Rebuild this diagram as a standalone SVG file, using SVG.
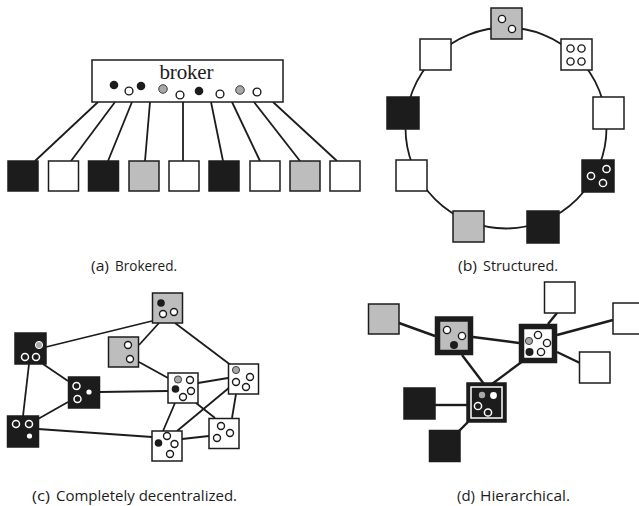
<svg xmlns="http://www.w3.org/2000/svg" width="639" height="506" viewBox="0 0 639 506">
<style>
.bg{fill:#fff}
.k{fill:#1c1c1c;stroke:#1c1c1c;stroke-width:1.5}
.w{fill:#fff;stroke:#1c1c1c;stroke-width:1.5}
.g{fill:#bdbdbd;stroke:#1c1c1c;stroke-width:1.5}
.ln{stroke:#1c1c1c;stroke-width:1.8;fill:none}
.ln2{stroke:#1c1c1c;stroke-width:2.4;fill:none}
.dk{fill:#1c1c1c}
.dw{fill:#fff;stroke:#1c1c1c;stroke-width:1.4}
.dg{fill:#a8a8a8;stroke:#1c1c1c;stroke-width:0.8}
.ow{fill:none;stroke:#fff;stroke-width:1.5}
.fw{fill:#fff}
.gg{fill:#a8a8a8}
.cap{font-family:"Open Sans","Noto Sans",sans-serif;font-size:14.5px;fill:#1c1c1c}
.serif{font-family:"Liberation Serif","Times New Roman",serif;font-size:21px;fill:#1c1c1c}
</style>
<rect class="bg" x="0" y="0" width="639" height="506"/>

<!-- (a) Brokered -->
<g id="a-connectors">
<line class="ln" x1="98" y1="102" x2="35" y2="161"/>
<line class="ln" x1="115" y1="102" x2="71" y2="161"/>
<line class="ln" x1="132" y1="102" x2="108" y2="161"/>
<line class="ln" x1="150" y1="102" x2="145" y2="161"/>
<line class="ln" x1="183" y1="102" x2="183" y2="161"/>
<line class="ln" x1="211" y1="102" x2="223" y2="161"/>
<line class="ln" x1="232" y1="102" x2="260" y2="161"/>
<line class="ln" x1="254" y1="102" x2="300" y2="161"/>
<line class="ln" x1="273" y1="102" x2="337" y2="161"/>
</g>
<g id="a-broker">
<rect class="w" x="92" y="60" width="191" height="42"/>
<text class="serif" x="186.5" y="78.5" text-anchor="middle" textLength="54">broker</text>
<circle class="dk" cx="114" cy="85" r="4.3"/>
<circle class="dw" cx="129" cy="91" r="3.9"/>
<circle class="dk" cx="141" cy="86" r="4.3"/>
<circle class="dg" cx="163" cy="89" r="4.3"/>
<circle class="dw" cx="180" cy="95" r="3.9"/>
<circle class="dk" cx="199" cy="91" r="4.3"/>
<circle class="dw" cx="220" cy="94" r="3.9"/>
<circle class="dg" cx="240" cy="90" r="4.3"/>
<circle class="dw" cx="257" cy="92" r="3.9"/>
</g>
<g id="a-n1"><rect class="k" x="8" y="161" width="30" height="30"/></g>
<g id="a-n2"><rect class="w" x="48.5" y="161" width="30" height="30"/></g>
<g id="a-n3"><rect class="k" x="88.5" y="161" width="30" height="30"/></g>
<g id="a-n4"><rect class="g" x="129" y="161" width="30" height="30"/></g>
<g id="a-n5"><rect class="w" x="169" y="161" width="30" height="30"/></g>
<g id="a-n6"><rect class="k" x="209" y="161" width="30" height="30"/></g>
<g id="a-n7"><rect class="w" x="250" y="161" width="30" height="30"/></g>
<g id="a-n8"><rect class="g" x="290" y="161" width="30" height="30"/></g>
<g id="a-n9"><rect class="w" x="330" y="161" width="30" height="30"/></g>
<text class="cap" y="270.5"><tspan x="91" textLength="18" lengthAdjust="spacingAndGlyphs">(a)</tspan> <tspan x="115" textLength="62" lengthAdjust="spacingAndGlyphs">Brokered.</tspan></text>

<!-- (b) Structured -->
<g id="b-connectors">
<circle class="ln" cx="506" cy="128" r="100.5"/>
</g>
<g id="b-n1"><rect class="g" x="491" y="8" width="31" height="31"/>
<circle class="dw" cx="502" cy="19" r="3.6"/><circle class="dw" cx="512" cy="29" r="3.6"/></g>
<g id="b-n2"><rect class="w" x="420" y="39" width="31" height="31"/></g>
<g id="b-n3"><rect class="w" x="561" y="39" width="31" height="31"/>
<circle class="dw" cx="570.5" cy="48.5" r="3.6"/><circle class="dw" cx="581.5" cy="48.5" r="3.6"/>
<circle class="dw" cx="570.5" cy="61.5" r="3.6"/><circle class="dw" cx="581.5" cy="61.5" r="3.6"/></g>
<g id="b-n4"><rect class="k" x="387" y="97" width="32" height="32"/></g>
<g id="b-n5"><rect class="w" x="593" y="97" width="31" height="32"/></g>
<g id="b-n6"><rect class="w" x="396" y="160" width="31" height="31"/></g>
<g id="b-n7"><rect class="k" x="582" y="160" width="32" height="32"/>
<circle class="ow" cx="591" cy="176" r="3.6"/><circle class="ow" cx="606.5" cy="169" r="3.6"/><circle class="ow" cx="603" cy="183" r="3.6"/></g>
<g id="b-n8"><rect class="g" x="453" y="211" width="31" height="31"/></g>
<g id="b-n9"><rect class="k" x="527" y="211" width="32" height="32"/></g>
<text class="cap" y="270.5"><tspan x="458" textLength="19" lengthAdjust="spacingAndGlyphs">(b)</tspan> <tspan x="483" textLength="75" lengthAdjust="spacingAndGlyphs">Structured.</tspan></text>

<!-- (c) Completely decentralized -->
<g id="c-connectors">
<line class="ln" x1="46" y1="347" x2="152" y2="321"/>
<line class="ln" x1="139" y1="345" x2="159" y2="323"/>
<line class="ln" x1="175" y1="323" x2="232" y2="366"/>
<line class="ln" x1="43" y1="364" x2="68" y2="381"/>
<line class="ln" x1="29" y1="364" x2="23" y2="416"/>
<line class="ln" x1="139" y1="362" x2="168" y2="378"/>
<line class="ln" x1="99" y1="392" x2="168" y2="391"/>
<line class="ln" x1="68" y1="402" x2="38" y2="419"/>
<line class="ln" x1="38" y1="429" x2="152" y2="437"/>
<line class="ln" x1="198" y1="383" x2="228" y2="378"/>
<line class="ln" x1="175" y1="403" x2="163" y2="431"/>
<line class="ln" x1="196" y1="403" x2="215" y2="418"/>
<line class="ln" x1="230" y1="387" x2="177" y2="431"/>
<line class="ln" x1="236" y1="394" x2="232" y2="418"/>
<line class="ln" x1="182" y1="439" x2="209" y2="436"/>
</g>
<g id="c-A"><rect class="g" x="152.5" y="293" width="30" height="30"/>
<circle class="dk" cx="161" cy="303" r="3.8"/><circle class="dw" cx="163" cy="314" r="3.5"/><circle class="dw" cx="174" cy="312" r="3.5"/></g>
<g id="c-B"><rect class="k" x="15" y="333" width="31" height="31"/>
<circle class="gg" cx="39" cy="345" r="3.6" stroke="#fff" stroke-width="1"/><circle class="ow" cx="25" cy="357" r="3.5"/><circle class="ow" cx="36" cy="357" r="3.5"/></g>
<g id="c-C"><rect class="g" x="108.5" y="337" width="30" height="30"/>
<circle class="dw" cx="128" cy="345" r="3.5"/><circle class="dw" cx="130" cy="359" r="3.5"/></g>
<g id="c-D"><rect class="k" x="68.5" y="377" width="31" height="31"/>
<circle class="ow" cx="76.5" cy="386" r="3.5"/><circle class="ow" cx="77.5" cy="399" r="3.5"/><circle class="fw" cx="89" cy="392" r="2.6"/></g>
<g id="c-E"><rect class="w" x="168" y="373" width="30" height="30"/>
<circle class="dg" cx="178" cy="379.5" r="3.6"/><circle class="dw" cx="190" cy="380" r="3.5"/><circle class="dk" cx="175.5" cy="389" r="3.8"/><circle class="dw" cx="191" cy="391" r="3.5"/><circle class="dw" cx="183" cy="397" r="3.5"/></g>
<g id="c-F"><rect class="w" x="228.5" y="364" width="30" height="30"/>
<circle class="dg" cx="236" cy="370" r="3.6"/><circle class="dw" cx="250" cy="377" r="3.5"/><circle class="dw" cx="236" cy="382" r="3.5"/><circle class="dw" cx="246" cy="387" r="3.5"/></g>
<g id="c-G"><rect class="k" x="7.5" y="416" width="31" height="31"/>
<circle class="ow" cx="16" cy="424" r="3.5"/><circle class="ow" cx="29" cy="424" r="3.5"/><circle class="fw" cx="29.5" cy="436" r="2.6"/></g>
<g id="c-H"><rect class="w" x="152" y="431" width="30" height="30"/>
<circle class="dk" cx="158.5" cy="443" r="3.8"/><circle class="dw" cx="167" cy="436" r="3.5"/><circle class="dw" cx="174.5" cy="444" r="3.5"/><circle class="dw" cx="170" cy="454" r="3.5"/></g>
<g id="c-I"><rect class="w" x="209" y="418.5" width="30" height="30"/>
<circle class="dw" cx="221" cy="426" r="3.5"/><circle class="dw" cx="230" cy="433" r="3.5"/><circle class="dw" cx="217" cy="438" r="3.5"/></g>
<text class="cap" y="501"><tspan x="32" textLength="18" lengthAdjust="spacingAndGlyphs">(c)</tspan> <tspan x="56" textLength="181" lengthAdjust="spacingAndGlyphs">Completely decentralized.</tspan></text>

<!-- (d) Hierarchical -->
<g id="d-connectors">
<line class="ln2" x1="399" y1="323" x2="435" y2="336"/>
<line class="ln2" x1="473" y1="337" x2="519" y2="343"/>
<line class="ln2" x1="462" y1="355" x2="484" y2="384"/>
<line class="ln2" x1="527" y1="358" x2="492" y2="384"/>
<line class="ln2" x1="548" y1="324" x2="557" y2="313"/>
<line class="ln2" x1="557" y1="335" x2="613" y2="320"/>
<line class="ln2" x1="557" y1="352" x2="580" y2="363"/>
<line class="ln2" x1="435" y1="405" x2="467" y2="405" stroke-width="3"/>
<line class="ln2" x1="458" y1="432" x2="468" y2="422"/>
</g>
<g id="d-n1"><rect class="g" x="368.5" y="304" width="30.5" height="30"/></g>
<g id="d-hub1"><rect x="437.5" y="319" width="33" height="33.5" fill="#bdbdbd" stroke="#1c1c1c" stroke-width="5.5"/>
<circle class="dw" cx="447" cy="330" r="3.6"/><circle class="dw" cx="462" cy="336" r="3.6"/><circle class="dk" cx="454" cy="345" r="4"/></g>
<g id="d-hub2"><rect x="521.5" y="326.5" width="33" height="34" fill="#fff" stroke="#1c1c1c" stroke-width="5.5"/>
<circle class="dg" cx="529" cy="341" r="3.6"/><circle class="dw" cx="538" cy="335" r="3.6"/><circle class="dw" cx="547" cy="343" r="3.6"/><circle class="dk" cx="529.5" cy="352" r="4"/><circle class="dw" cx="541" cy="352" r="3.6"/></g>
<g id="d-hub3"><rect class="k" x="467" y="383" width="39" height="39"/>
<rect class="ow" x="471" y="387" width="31" height="31"/>
<circle class="gg" cx="482" cy="395" r="3.2"/><circle class="fw" cx="493.5" cy="395.5" r="3.4"/><circle class="ow" cx="478" cy="406" r="3.6"/><circle class="ow" cx="488" cy="412.5" r="3.6"/></g>
<g id="d-n2"><rect class="w" x="544.5" y="282" width="30.5" height="31"/></g>
<g id="d-n3"><rect class="w" x="613" y="303" width="31" height="31"/></g>
<g id="d-n4"><rect class="w" x="579.5" y="352" width="30.5" height="31"/></g>
<g id="d-n5"><rect class="k" x="404" y="388" width="31" height="31"/></g>
<g id="d-n6"><rect class="k" x="429.5" y="430.5" width="30.5" height="31"/></g>
<text class="cap" y="501"><tspan x="457" textLength="18" lengthAdjust="spacingAndGlyphs">(d)</tspan> <tspan x="480" textLength="90" lengthAdjust="spacingAndGlyphs">Hierarchical.</tspan></text>
</svg>
